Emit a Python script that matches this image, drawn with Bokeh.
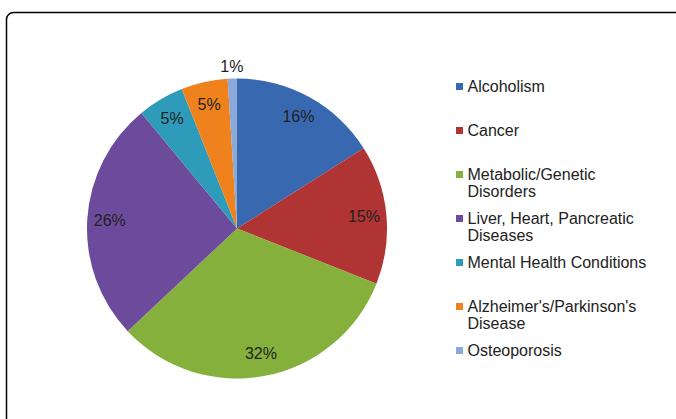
import numpy as np
from bokeh.plotting import figure
from bokeh.models import Range1d, BoxAnnotation, ColumnDataSource
from bokeh.core.properties import value
from bokeh.embed import file_html
from bokeh.resources import INLINE

# ---- data ----
categories = ["Alcoholism", "Cancer", "Metabolic/Genetic\nDisorders",
              "Liver, Heart, Pancreatic\nDiseases", "Mental Health Conditions",
              "Alzheimer's/Parkinson's\nDisease", "Osteoporosis"]
shares = [16, 15, 32, 26, 5, 5, 1]
labels = ["16%", "15%", "32%", "26%", "5%", "5%", "1%"]
colors = ["#3868B0", "#B03434", "#86B03C", "#6C4A9C", "#2E9BBA", "#F0821E", "#8AA8D8"]

W, H = 676, 419
p = figure(width=W, height=H, output_backend="svg", toolbar_location=None,
           x_range=Range1d(0, W), y_range=Range1d(0, H), min_border=0)
p.axis.visible = False
p.grid.visible = False
p.outline_line_color = None
p.background_fill_color = "white"

# frame
p.add_layout(BoxAnnotation(left=6, right=W + 20, top=H - 12, bottom=-20,
                           fill_color=None, fill_alpha=0, line_color="black",
                           line_alpha=1.0, line_width=1.5, border_radius=7))

# pie
cx, cy, r = 236.5, H - 228.0, 150.0
vals = np.array(shares, dtype=float)
frac = vals / vals.sum()
cum_end = np.cumsum(frac)
cum_start = cum_end - frac
start = np.pi / 2 - 2 * np.pi * cum_end
end = np.pi / 2 - 2 * np.pi * cum_start
src = ColumnDataSource(dict(start=start, end=end, color=colors))
p.wedge(x=cx, y=cy, radius=r, start_angle="start", end_angle="end",
        direction="anticlock", fill_color="color", line_color=None, source=src)

# labels
mid = 2 * np.pi * (cum_start + frac / 2)
lr = np.where(frac < 0.02, 1.08 * r, 0.85 * r)
lx = cx + lr * np.sin(mid)
ly = cy + lr * np.cos(mid)
p.text(x=lx, y=ly, text=labels, text_font=value("Liberation Sans"),
       text_font_size="16px", text_color="#222222", text_align="center",
       text_baseline="middle")

# legend
lx0, ly0, step, line_h = 467, H - 86, 44, 17
tx, ty, tt, sx, sy = [], [], [], [], []
for i, c in enumerate(categories):
    y0 = ly0 - i * step
    sx.append(lx0 - 8)
    sy.append(y0)
    for j, line in enumerate(c.split("\n")):
        tx.append(lx0)
        ty.append(y0 - j * line_h)
        tt.append(line)
p.scatter(x=sx, y=sy, marker="square", size=7, fill_color=colors, line_color=None)
p.text(x=tx, y=ty, text=tt, text_font=value("Liberation Sans"),
       text_font_size="16px", text_color="#222222", text_align="left",
       text_baseline="middle")

open("out.html", "w").write(file_html(p, INLINE))
